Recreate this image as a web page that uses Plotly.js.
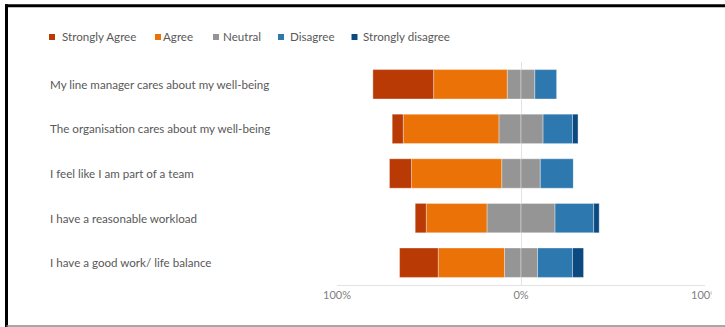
<!DOCTYPE html>
<html>
<head>
<meta charset="utf-8">
<script src="https://cdn.plot.ly/plotly-3.0.1.min.js"></script>
<style>html,body{margin:0;padding:0;background:#fff;}#chart{width:725px;height:327px;}</style>
</head>
<body>
<div id="chart"></div>
<script>
// ---- data ----
var categories = [
  "My line manager cares about my well-being",
  "The organisation cares about my well-being",
  "I feel like I am part of a team",
  "I have a reasonable workload",
  "I have a good work/ life balance"
];
var seriesNames = ["Strongly Agree", "Agree", "Neutral", "Disagree", "Strongly disagree"];
var stronglyAgree    = [33, 6, 12, 6, 21];
var agree            = [40, 52, 49, 33, 36];
var neutral          = [15, 24, 21, 37, 18];
var disagree         = [12, 16, 18, 21, 19];
var stronglyDisagree = [0, 3, 0, 3, 6];
var tickValues = [-100, 0, 100];
var tickLabels = ["100%", "0%", "100%"];

// ---- styling ----
var colors = {
  "Strongly Agree": "#B93A04",
  "Agree": "#EA7207",
  "Neutral": "#959595",
  "Disagree": "#2E78B0",
  "Strongly disagree": "#0B4A80"
};
var W = 725, H = 327;
var ML = 337, MR = 20, MT = 62, MB = 42;
var PW = W - ML - MR, PH = H - MT - MB;
function px2x(px) { return (px - ML) / PW; }
function py2y(py) { return (H - MB - py) / PH; }

var FONT = "Lato, 'Open Sans', sans-serif";
var neg = function (a) { return a.map(function (v) { return -v; }); };
var half = function (a) { return a.map(function (v) { return v / 2; }); };

function bar(name, vals) {
  return {
    type: "bar", orientation: "h", name: name, y: categories, x: vals,
    marker: { color: colors[name], line: { color: "rgba(255,255,255,0.6)", width: 0.6 } },
    showlegend: false, hoverinfo: "name+y"
  };
}
var data = [
  bar("Neutral", neg(half(neutral))),
  bar("Neutral", half(neutral)),
  bar("Agree", neg(agree)),
  bar("Disagree", disagree),
  bar("Strongly Agree", neg(stronglyAgree)),
  bar("Strongly disagree", stronglyDisagree)
];

var annotations = categories.map(function (c) {
  return {
    xref: "paper", yref: "y", x: px2x(48), y: c, xanchor: "left", yanchor: "middle",
    text: c, showarrow: false, font: { family: FONT, size: 11.6, color: "#595959" }
  };
});
var legendTextX = [60, 161, 221, 288, 361];
var legendSqX = [52, 158, 216, 281, 354.5];
var shapes = [];
seriesNames.forEach(function (n, i) {
  annotations.push({
    xref: "paper", yref: "paper", x: px2x(legendTextX[i]), y: py2y(37),
    xanchor: "left", yanchor: "middle", text: n, showarrow: false,
    font: { family: FONT, size: 11.6, color: "#595959" }
  });
  shapes.push({
    type: "rect", xref: "paper", yref: "paper", layer: "above",
    x0: px2x(legendSqX[i] - 3), x1: px2x(legendSqX[i] + 3),
    y0: py2y(40), y1: py2y(34), fillcolor: colors[n], line: { width: 0 }
  });
});
// cropped right edge of the source picture (hides the end of the right tick label)
shapes.push({ type: "rect", xref: "paper", yref: "paper", layer: "above",
  x0: px2x(711.5), x1: px2x(726), y0: py2y(287), y1: py2y(305),
  fillcolor: "#fff", line: { width: 0 } });
// frame
shapes.push({ type: "line", xref: "paper", yref: "paper", layer: "above",
  x0: px2x(5), x1: px2x(725), y0: py2y(5.7), y1: py2y(5.7), line: { color: "#000", width: 3 } });
shapes.push({ type: "line", xref: "paper", yref: "paper", layer: "above",
  x0: px2x(6.5), x1: px2x(6.5), y0: py2y(4.3), y1: py2y(327), line: { color: "#000", width: 3 } });
shapes.push({ type: "line", xref: "paper", yref: "paper", layer: "above",
  x0: px2x(6.5), x1: px2x(725), y0: py2y(326), y1: py2y(326), line: { color: "#8a8a8a", width: 1.5 } });

var layout = {
  width: W, height: H,
  margin: { l: ML, r: MR, t: MT, b: MB },
  paper_bgcolor: "#fff", plot_bgcolor: "#fff",
  barmode: "relative", bargap: 0.34,
  font: { family: FONT, color: "#595959" },
  xaxis: {
    range: [-100, 100], tickmode: "array", tickvals: tickValues, ticktext: tickLabels,
    showgrid: true, gridcolor: "#e3e3e3", gridwidth: 1, zeroline: false,
    showline: true, linecolor: "#e3e3e3", linewidth: 1, ticks: "",
    tickfont: { family: FONT, size: 11, color: "#808080" }, layer: "above traces", fixedrange: true
  },
  yaxis: {
    type: "category", autorange: "reversed", showticklabels: false, showgrid: false,
    zeroline: false, showline: false, ticks: "", fixedrange: true
  },
  annotations: annotations, shapes: shapes, showlegend: false
};
Plotly.newPlot("chart", data, layout, { displayModeBar: false, staticPlot: true });
</script>
</body>
</html>
